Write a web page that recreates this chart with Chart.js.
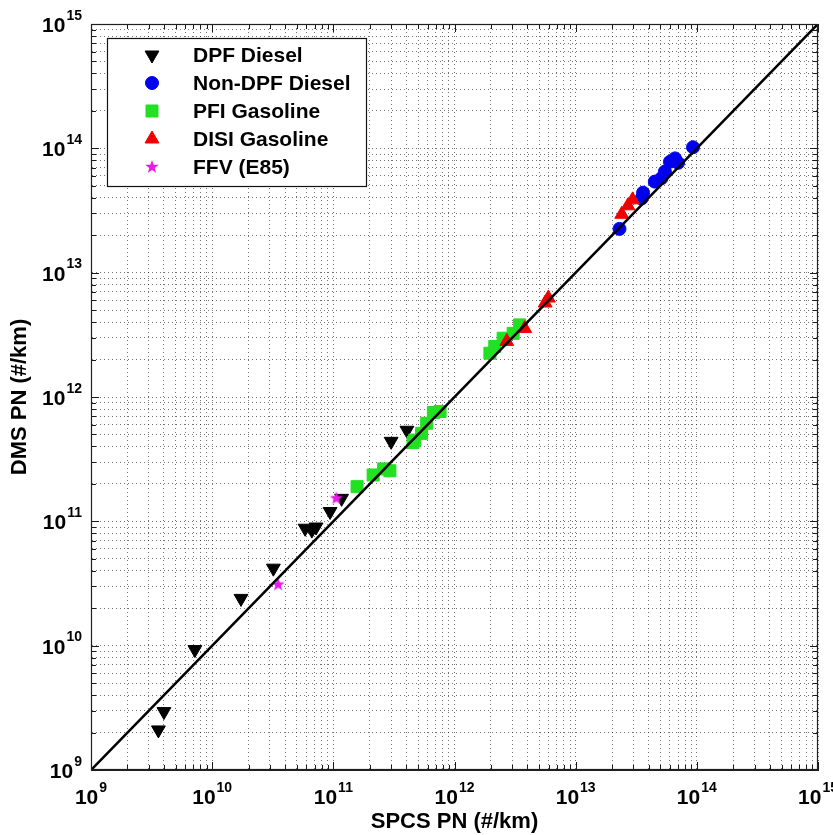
<!DOCTYPE html>
<html><head><meta charset="utf-8">
<script src="https://cdn.jsdelivr.net/npm/chart.js@4.4.1/dist/chart.umd.min.js"></script>
<style>html,body{margin:0;padding:0;background:#fff;}canvas{display:block;}</style>
</head><body>
<canvas id="c" width="833" height="835" style="width:833px;height:835px"></canvas>
<script>
// ---------------- data ----------------
const seriesLabels = ['DPF Diesel', 'Non-DPF Diesel', 'PFI Gasoline', 'DISI Gasoline', 'FFV (E85)'];

const dpfX = [3.6e9, 4.0e9, 7.2e9, 1.73e10, 3.2e10, 5.85e10, 6.65e10, 7.2e10, 9.4e10, 1.17e11, 3.0e11, 4.05e11];
const dpfY = [2.1e9, 2.95e9, 9.3e9, 2.4e10, 4.2e10, 8.8e10, 8.5e10, 9.0e10, 1.2e11, 1.53e11, 4.4e11, 5.4e11];

const nonDpfX = [2.3e13, 3.5e13, 3.6e13, 4.5e13, 5.1e13, 5.45e13, 6.0e13, 6.6e13, 7.0e13, 9.3e13];
const nonDpfY = [2.25e13, 3.95e13, 4.4e13, 5.4e13, 5.75e13, 6.5e13, 7.8e13, 8.3e13, 7.65e13, 1.02e14];

const pfiX = [1.57e11, 2.13e11, 2.6e11, 2.93e11, 4.55e11, 4.7e11, 5.35e11, 5.9e11, 6.7e11, 7.6e11, 1.96e12, 2.15e12, 2.52e12, 3.05e12, 3.45e12];
const pfiY = [1.9e11, 2.36e11, 2.64e11, 2.55e11, 4.3e11, 4.5e11, 5.1e11, 6.15e11, 7.5e11, 7.65e11, 2.25e12, 2.55e12, 2.97e12, 3.25e12, 3.8e12];

const disiX = [2.7e12, 3.8e12, 5.6e12, 5.95e12, 2.4e13, 2.7e13, 2.95e13];
const disiY = [2.8e12, 3.55e12, 5.7e12, 6.25e12, 2.95e13, 3.45e13, 3.85e13];

const ffvX = [3.5e10, 1.06e11];
const ffvY = [3.1e10, 1.53e11];

const refLineX = [1e9, 1e15];
const refLineY = [1e9, 1e15];

const decadeExponents = [9, 10, 11, 12, 13, 14, 15];
const minorMultipliers = [2, 3, 4, 5, 6, 7, 8, 9];

const xTitle = 'SPCS PN (#/km)';
const yTitle = 'DMS PN (#/km)';

// ---------------- helpers ----------------
const FONT = "'Liberation Sans', Arial, Helvetica, sans-serif";
const zip = (xs, ys) => xs.map((v, i) => ({x: v, y: ys[i]}));

const majorTicks = decadeExponents.map(e => Math.pow(10, e));
const tickValues = [];
decadeExponents.forEach((e, i) => {
  tickValues.push(Math.pow(10, e));
  if (i < decadeExponents.length - 1) minorMultipliers.forEach(m => tickValues.push(m * Math.pow(10, e)));
});

function makeStar(color, outer, inner) {
  const s = Math.ceil(outer * 2 + 2);
  const cv = document.createElement('canvas');
  cv.width = s; cv.height = s;
  const g = cv.getContext('2d');
  g.fillStyle = color;
  g.beginPath();
  for (let k = 0; k < 10; k++) {
    const r = k % 2 === 0 ? outer : inner;
    const ang = -Math.PI / 2 + k * Math.PI / 5;
    const px = s / 2 + r * Math.cos(ang), py = s / 2 + r * Math.sin(ang);
    if (k === 0) g.moveTo(px, py); else g.lineTo(px, py);
  }
  g.closePath(); g.fill();
  return cv;
}
const starImg = makeStar('#e81ce8', 7, 2.9);

const styles = [
  {color: '#000000', pointStyle: 'triangle', rotation: 180, radius: 8},
  {color: '#0000f0', pointStyle: 'circle', rotation: 0, radius: 6.5},
  {color: '#22e022', pointStyle: 'rect', rotation: 0, radius: 8.5},
  {color: '#f00000', pointStyle: 'triangle', rotation: 0, radius: 8},
  {color: '#e81ce8', pointStyle: starImg, rotation: 0, radius: 7}
];
const seriesData = [zip(dpfX, dpfY), zip(nonDpfX, nonDpfY), zip(pfiX, pfiY), zip(disiX, disiY), zip(ffvX, ffvY)];

const datasets = [{
  type: 'line', label: 'y = x', data: zip(refLineX, refLineY), borderColor: '#000', borderWidth: 2.6,
  pointRadius: 0, fill: false, tension: 0, order: 0
}];
seriesLabels.forEach((lab, i) => {
  const st = styles[i];
  datasets.push({
    label: lab, data: seriesData[i], pointStyle: st.pointStyle, rotation: st.rotation,
    pointRadius: st.radius, pointHoverRadius: st.radius,
    backgroundColor: st.color, borderColor: st.color, borderWidth: 1, order: 5 - i
  });
});

function fallbackDrawPoint(ctx, o, x, y) {
  const st = o.pointStyle, r = o.radius;
  if (typeof st === 'object') { ctx.drawImage(st, x - st.width / 2, y - st.height / 2); return; }
  ctx.beginPath();
  if (st === 'circle') ctx.arc(x, y, r, 0, Math.PI * 2);
  else if (st === 'rect') { const h = Math.SQRT1_2 * r; ctx.rect(x - h, y - h, 2 * h, 2 * h); }
  else {
    let rad = o.rotation * Math.PI / 180;
    for (let k = 0; k < 3; k++) {
      const px = x + Math.sin(rad) * r, py = y - Math.cos(rad) * r;
      if (k === 0) ctx.moveTo(px, py); else ctx.lineTo(px, py);
      rad += 2 * Math.PI / 3;
    }
    ctx.closePath();
  }
  ctx.fill(); ctx.stroke();
}

function drawPow(ctx, exp, cx, baseline, align) {
  const mainFont = 'bold 21px ' + FONT, supFont = 'bold 14px ' + FONT;
  ctx.font = mainFont; const w1 = ctx.measureText('10').width;
  ctx.font = supFont; const w2 = ctx.measureText(String(exp)).width;
  const total = w1 + 1 + w2;
  let x0 = align === 'center' ? cx - total / 2 : cx - total;
  ctx.textAlign = 'left'; ctx.textBaseline = 'alphabetic'; ctx.fillStyle = '#000';
  ctx.font = mainFont; ctx.fillText('10', x0, baseline);
  ctx.font = supFont; ctx.fillText(String(exp), x0 + w1 + 1, baseline - 12.5);
}

const decorPlugin = {
  id: 'decor',
  afterDatasetsDraw(chart) {
    const {ctx, chartArea: a, scales: {x, y}} = chart;
    ctx.save();
    // inner tick marks
    ctx.strokeStyle = '#1a1a1a'; ctx.lineWidth = 1; ctx.setLineDash([]);
    ctx.beginPath();
    tickValues.forEach(v => {
      const len = majorTicks.includes(v) ? 8 : 5;
      const px = Math.round(x.getPixelForValue(v)) + 0.5;
      ctx.moveTo(px, a.bottom); ctx.lineTo(px, a.bottom - len);
      ctx.moveTo(px, a.top); ctx.lineTo(px, a.top + len);
      const py = Math.round(y.getPixelForValue(v)) + 0.5;
      ctx.moveTo(a.left, py); ctx.lineTo(a.left + len, py);
      ctx.moveTo(a.right, py); ctx.lineTo(a.right - len, py);
    });
    ctx.stroke();
    // frame
    ctx.lineWidth = 1.2; ctx.strokeStyle = '#202020';
    ctx.strokeRect(Math.round(a.left) + 0.5, Math.round(a.top) + 0.5, Math.round(a.right - a.left) - 1, Math.round(a.bottom - a.top) - 1);
    // tick labels
    decadeExponents.forEach((e, i) => {
      const v = majorTicks[i];
      drawPow(ctx, e, x.getPixelForValue(v), a.bottom + 34, 'center');
      drawPow(ctx, e, a.left - 9, y.getPixelForValue(v) + 8, 'right');
    });
    // legend
    const lx = a.left + 16, ly = a.top + 14, lw = 259, lh = 148;
    ctx.fillStyle = '#fff'; ctx.fillRect(lx, ly, lw, lh);
    ctx.strokeStyle = '#111'; ctx.lineWidth = 1.2;
    ctx.strokeRect(lx + 0.5, ly + 0.5, lw, lh);
    const helpersDraw = (window.Chart && Chart.helpers && Chart.helpers.drawPoint) ? Chart.helpers.drawPoint : null;
    seriesLabels.forEach((lab, i) => {
      const st = styles[i];
      const cy = ly + 17 + i * 28;
      const mx = lx + 45;
      ctx.fillStyle = st.color; ctx.strokeStyle = st.color; ctx.lineWidth = 1;
      const o = {pointStyle: st.pointStyle, radius: st.radius, rotation: st.rotation, borderWidth: 1};
      if (helpersDraw) helpersDraw(ctx, o, mx, cy); else fallbackDrawPoint(ctx, o, mx, cy);
      ctx.fillStyle = '#000'; ctx.font = 'bold 21px ' + FONT;
      ctx.textAlign = 'left'; ctx.textBaseline = 'middle';
      ctx.fillText(lab, lx + 86, cy + 1);
    });
    ctx.restore();
  }
};

const gridCommon = {color: 'rgba(0,0,0,0.55)', lineWidth: 1, drawTicks: false};
const borderCommon = {display: true, color: '#202020', width: 1, dash: [1, 3]};

new Chart(document.getElementById('c'), {
  type: 'scatter',
  data: {datasets},
  options: {
    responsive: false, animation: false, devicePixelRatio: 1,
    events: [],
    layout: {padding: {top: 24, right: 15, left: 0, bottom: 0}},
    plugins: {legend: {display: false}, tooltip: {enabled: false}},
    scales: {
      x: {
        type: 'logarithmic', min: 1e9, max: 1e15,
        afterFit: s => { s.height = 65; },
        afterBuildTicks: s => { s.ticks = tickValues.map(v => ({value: v})); },
        ticks: {display: false, autoSkip: false},
        grid: gridCommon, border: borderCommon,
        title: {display: true, text: xTitle, color: '#000', font: {family: FONT, size: 22, weight: 'bold'}, padding: {top: 0, bottom: 0}}
      },
      y: {
        type: 'logarithmic', min: 1e9, max: 1e15,
        afterFit: s => { s.width = 91; },
        afterBuildTicks: s => { s.ticks = tickValues.map(v => ({value: v})); },
        ticks: {display: false, autoSkip: false},
        grid: gridCommon, border: borderCommon,
        title: {display: true, text: yTitle, color: '#000', font: {family: FONT, size: 22, weight: 'bold'}, padding: {top: 7, bottom: 0}}
      }
    }
  },
  plugins: [decorPlugin]
});
</script>
</body></html>
